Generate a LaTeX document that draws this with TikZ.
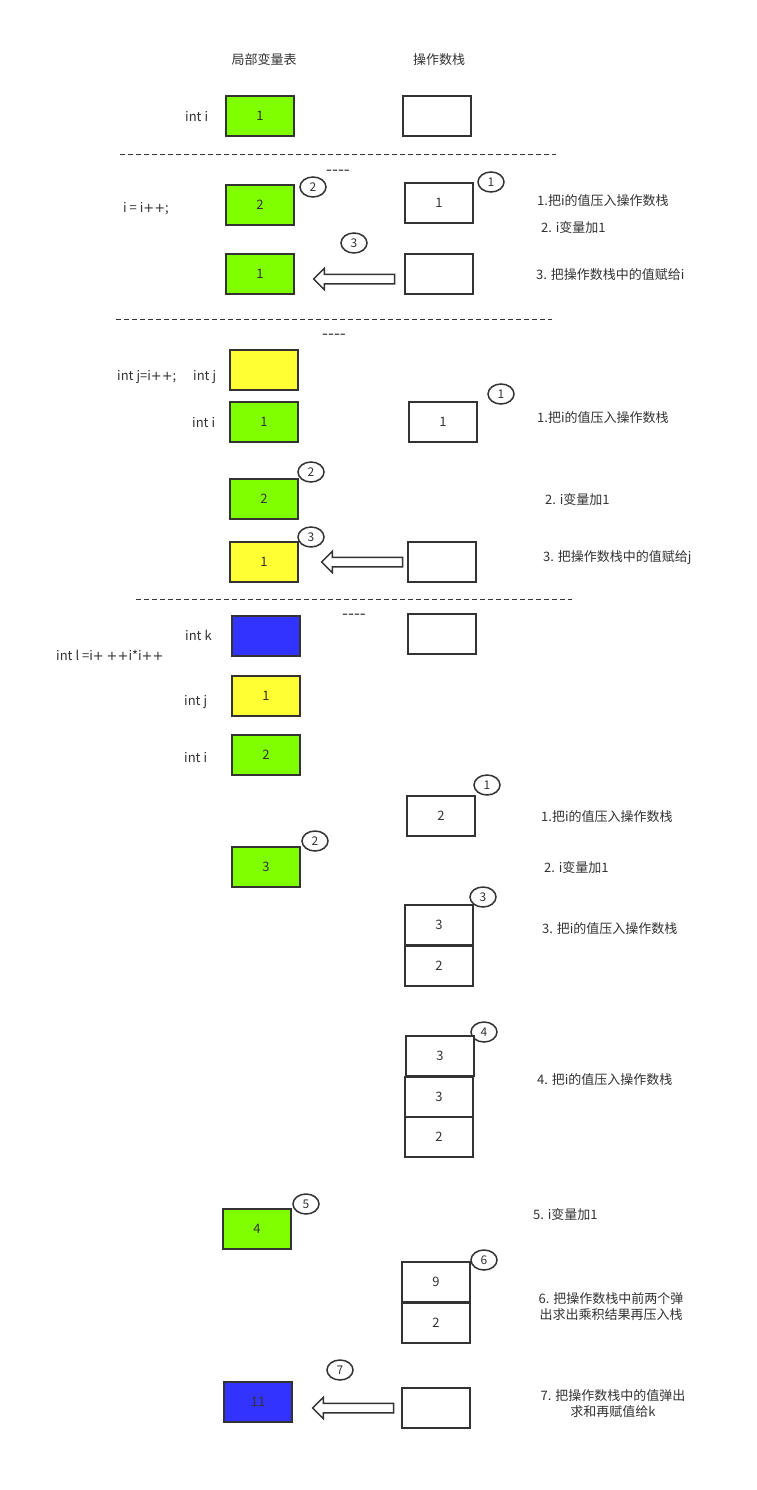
\documentclass[tikz,border=0pt]{standalone}
\usepackage{fontspec}
\setmainfont{Noto Sans CJK SC}[Ligatures=TeXOff]
\newfontfamily\plusfont{DejaVu Sans}[Ligatures=TeXOff]
\newcommand{\pl}{{\plusfont +}}
\usetikzlibrary{shapes.geometric,shapes.arrows}
\definecolor{ink}{HTML}{333333}
\definecolor{vgreen}{HTML}{80FF00}
\definecolor{vyellow}{HTML}{FFFF33}
\definecolor{vblue}{HTML}{3333FF}
\begin{document}
\begin{tikzpicture}[x=1pt,y=-1pt,
 every node/.style={text=ink, font=\fontsize{13}{17}\selectfont},
 cell/.style={draw=ink, line width=2pt, minimum width=68pt, minimum height=40pt, inner sep=0pt, fill=white},
 gcell/.style={cell, fill=vgreen},
 ycell/.style={cell, fill=vyellow},
 bcell/.style={cell, fill=vblue},
 tag/.style={ellipse, draw=ink, line width=1.5pt, minimum width=26pt, minimum height=20pt, inner sep=0pt, font=\fontsize{12}{14}\selectfont},
 lbl/.style={anchor=west, inner sep=0pt},
 dashtxt/.style={font=\fontsize{17}{20}\selectfont, inner sep=0pt},
 sepline/.style={draw=ink, line width=1pt, dash pattern=on 5pt off 3pt},
 back/.style={single arrow, draw=ink, line width=1.5pt, fill=white, shape border rotate=180, minimum height=81pt, minimum width=20pt, single arrow head extend=6pt, inner sep=4pt}
]
\useasboundingbox (0,0) rectangle (756,1490);
\fill[white] (0,0) rectangle (756,1490);

% headers
\node (h1) at (264,60) {局部变量表};
\node (h2) at (439,60) {操作数栈};

% section 1
\node[lbl] (s1l) at (185,117) {int i};
\node[gcell] (s1a) at (260,116) {1};
\node[cell] (s1b) at (437,116) {};
\draw[sepline] (120,155) -- (556,155);
\node[dashtxt] (d1) at (338,173) {----};

% section 2
\node[lbl] (s2l) at (123,209) {i = i\pl\pl;};
\node[gcell] (s2a) at (260,205) {2};
\node[tag] (s2t2) at (313,187) {2};
\node[cell] (s2b) at (439,203) {1};
\node[tag] (s2t1) at (491,182) {1};
\node[lbl] (s2x1) at (537,201) {1.把i的值压入操作数栈};
\node[lbl] (s2x2) at (541,228) {2. i变量加1};
\node[gcell] (s2c) at (260,274) {1};
\node[tag] (s2t3) at (354,243) {3};
\node[back] (s2ar) at (356.5,279) {};
\node[cell] (s2d) at (439,274) {};
\node[lbl] (s2x3) at (536,275) {3. 把操作数栈中的值赋给i};
\draw[sepline] (116,319) -- (552,319);
\node[dashtxt] (d2) at (334,337) {----};

% section 3
\node[lbl] (s3l) at (117,377) {int j=i\pl\pl;};
\node[lbl] (s3lj) at (193,377) {int j};
\node[ycell] (s3j) at (264,370) {};
\node[lbl] (s3li) at (192,423) {int i};
\node[gcell] (s3i) at (264,422) {1};
\node[cell] (s3b) at (443,422) {1};
\node[tag] (s3t1) at (501,394) {1};
\node[lbl] (s3x1) at (537,418) {1.把i的值压入操作数栈};
\node[gcell] (s3i2) at (264,499) {2};
\node[tag] (s3t2) at (311,472) {2};
\node[lbl] (s3x2) at (545,500) {2. i变量加1};
\node[ycell] (s3j2) at (264,562) {1};
\node[tag] (s3t3) at (311,537) {3};
\node[back] (s3ar) at (364.5,562) {};
\node[cell] (s3d) at (442,562) {};
\node[lbl] (s3x3) at (543,558) {3. 把操作数栈中的值赋给j};
\draw[sepline] (136,599) -- (572,599);
\node[dashtxt] (d3) at (354,617) {----};

% section 4
\node[lbl] (s4lk) at (185,635) {int k};
\node[bcell] (s4k) at (266,636) {};
\node[cell] (s4s) at (442,634) {};
\node[lbl] (s4l) at (56,655) {int l =i\pl{} \pl\pl i*i\pl\pl};
\node[lbl] (s4lj) at (184,702) {int j};
\node[ycell] (s4j) at (266,696) {1};
\node[lbl] (s4li) at (184,758) {int i};
\node[gcell] (s4i) at (266,755) {2};

\node[tag] (s4t1) at (487,785) {1};
\node[cell] (s4a) at (441,816) {2};
\node[lbl] (s4x1) at (541,817) {1.把i的值压入操作数栈};

\node[tag] (s4t2) at (315,841) {2};
\node[gcell] (s4i3) at (266,867) {3};
\node[lbl] (s4x2) at (544,868) {2. i变量加1};

\node[tag] (s4t3) at (483,897) {3};
\node[cell] (s4b1) at (439,925) {3};
\node[cell] (s4b2) at (439,966) {2};
\node[lbl] (s4x3) at (542,929) {3. 把i的值压入操作数栈};

\node[tag] (s4t4) at (484,1032) {4};
\node[cell] (s4c1) at (440,1056) {3};
\node[cell] (s4c2) at (439,1097) {3};
\node[cell] (s4c3) at (439,1137) {2};
\node[lbl] (s4x4) at (537,1080) {4. 把i的值压入操作数栈};

\node[tag] (s4t5) at (306,1204) {5};
\node[gcell] (s4i4) at (257,1229) {4};
\node[lbl] (s4x5) at (533,1214) {5. i变量加1};

\node[tag] (s4t6) at (484,1260) {6};
\node[cell] (s4d1) at (436,1282) {9};
\node[cell] (s4d2) at (436,1323) {2};
\node[align=center, font=\fontsize{13}{16}\selectfont] (s4x6) at (611,1307) {6. 把操作数栈中前两个弹\\出求出乘积结果再压入栈};

\node[tag] (s4t7) at (340,1370) {7};
\node[bcell] (s4k2) at (258,1402) {11};
\node[back] (s4ar) at (355.5,1408) {};
\node[cell] (s4e) at (436,1408) {};
\node[align=center, font=\fontsize{13}{16}\selectfont] (s4x7) at (613,1404) {7. 把操作数栈中的值弹出\\求和再赋值给k};
\end{tikzpicture}
\end{document}
